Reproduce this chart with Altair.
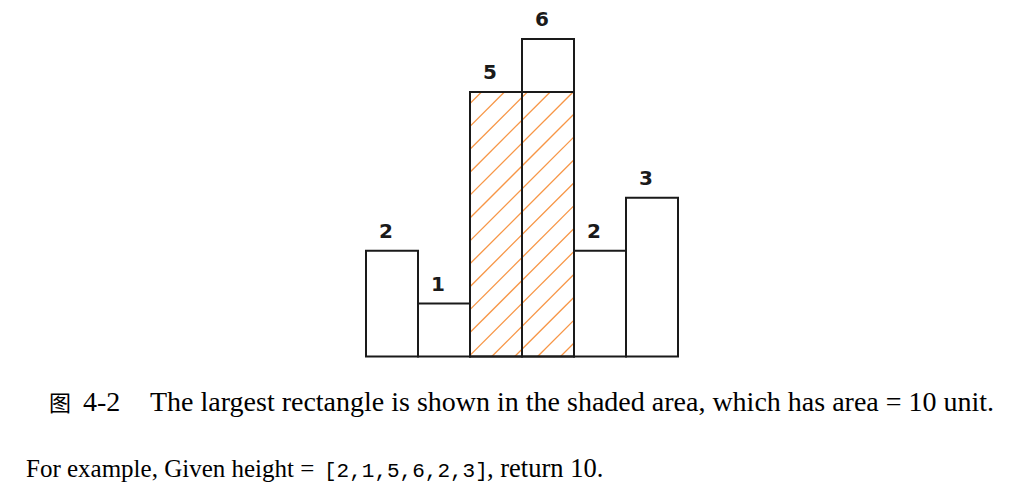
import altair as alt
import pandas as pd

# ---- data ----
heights = [2, 1, 5, 6, 2, 3]
bar_labels = ["2", "1", "5", "6", "2", "3"]
caption_prefix = "图"
caption_number = "4-2"
caption_text = "The largest rectangle is shown in the shaded area, which has area = 10 unit."
example_before = "For example, Given height = "
example_array = "[2,1,5,6,2,3]"
example_after = ", return 10."

# ---- layout constants (pixels inside the view) ----
X0, XPX = 358.0, 52.0        # left edge of first bar, px per bar
Y0, YPX = 348.5, 52.9        # baseline, px per unit of height
HATCH_GAP = 22.9             # vertical gap between hatch lines (px)
HATCH_PHASE = 253.0          # offset of first hatch line at left edge (px)
n = len(heights)
ymax = max(heights)


def largest_rectangle(h):
    best = (0, 0, 0, 0)
    stack = []
    for i, v in enumerate(h + [0]):
        start = i
        while stack and stack[-1][1] >= v:
            idx, sh = stack.pop()
            area = sh * (i - idx)
            if area > best[0]:
                best = (area, idx, i, sh)
            start = idx
        stack.append((start, v))
    return best


area, rl, rr, rh = largest_rectangle(heights)

bars = pd.DataFrame({
    "x": list(range(n)),
    "x2": [i + 1 for i in range(n)],
    "xc": [i + 0.5 for i in range(n)],
    "h": heights,
    "label": bar_labels,
    "base": [0] * n,
})
rect_df = pd.DataFrame({"x": [rl], "x2": [rr], "y": [0], "y2": [rh]})

# hatch lines (45 degrees on screen) clipped to the largest rectangle
Wp = (rr - rl) * XPX
Hp = rh * YPX
segs = []
c = HATCH_PHASE
while c < Hp:
    c += HATCH_GAP
c -= HATCH_GAP
while c > -Wp:
    ua = max(0.0, -c)
    ub = min(Wp, Hp - c)
    if ub > ua:
        segs.append({
            "x": rl + ua / XPX, "y": (ua + c) / YPX,
            "x2": rl + ub / XPX, "y2": (ub + c) / YPX,
        })
    c -= HATCH_GAP
hatch_df = pd.DataFrame(segs)

xs = alt.Scale(domain=[0, n], range=[X0, X0 + n * XPX])
ys = alt.Scale(domain=[0, ymax], range=[Y0, Y0 - ymax * YPX])

hatch = alt.Chart(hatch_df).mark_rule(color="#F79646", strokeWidth=1.3).encode(
    x=alt.X("x:Q", scale=xs, axis=None),
    y=alt.Y("y:Q", scale=ys, axis=None),
    x2="x2:Q",
    y2="y2:Q",
)

bar_rects = alt.Chart(bars).mark_rect(
    fill="white", fillOpacity=0, stroke="#1a1a1a", strokeWidth=2
).encode(
    x=alt.X("x:Q", scale=xs, axis=None),
    x2="x2:Q",
    y=alt.Y("h:Q", scale=ys, axis=None),
    y2="base:Q",
)

big_rect = alt.Chart(rect_df).mark_rect(
    fill="white", fillOpacity=0, stroke="#1a1a1a", strokeWidth=2
).encode(
    x=alt.X("x:Q", scale=xs, axis=None),
    x2="x2:Q",
    y=alt.Y("y2:Q", scale=ys, axis=None),
    y2="y:Q",
)

labels = alt.Chart(bars).mark_text(
    font="DejaVu Sans", fontWeight="bold", fontSize=20, color="#1a1a1a",
    baseline="alphabetic", align="center", dx=-6, dy=-13,
).encode(
    x=alt.X("xc:Q", scale=xs, axis=None),
    y=alt.Y("h:Q", scale=ys, axis=None),
    text="label:N",
)


def txt(s, x, y, font, size, align="left"):
    return alt.Chart(pd.DataFrame({"t": [s]})).mark_text(
        font=font, fontSize=size, color="#000000", align=align, baseline="alphabetic"
    ).encode(x=alt.value(x), y=alt.value(y), text="t:N")


cap1 = txt(caption_prefix, 41, 402.7, "Noto Sans CJK SC", 22)
cap2 = txt(caption_number, 75, 402.7, "Liberation Serif", 28)
cap3 = txt(caption_text, 142, 402.7, "Liberation Serif", 28)
ex1 = txt(example_before, 18, 468.7, "Liberation Serif", 25)
ex2 = txt(example_array, 316, 468.7, "Liberation Mono", 21)
ex3 = txt(example_after, 479, 468.7, "Liberation Serif", 26.5)

chart = alt.layer(
    hatch, bar_rects, big_rect, labels, cap1, cap2, cap3, ex1, ex2, ex3
).properties(
    width=1009, height=478, padding=0,
    autosize=alt.AutoSizeParams(type="none"),
    background="white",
).configure_view(strokeOpacity=0)

chart.save("out.html", embed_options={"renderer": "svg", "actions": False})
